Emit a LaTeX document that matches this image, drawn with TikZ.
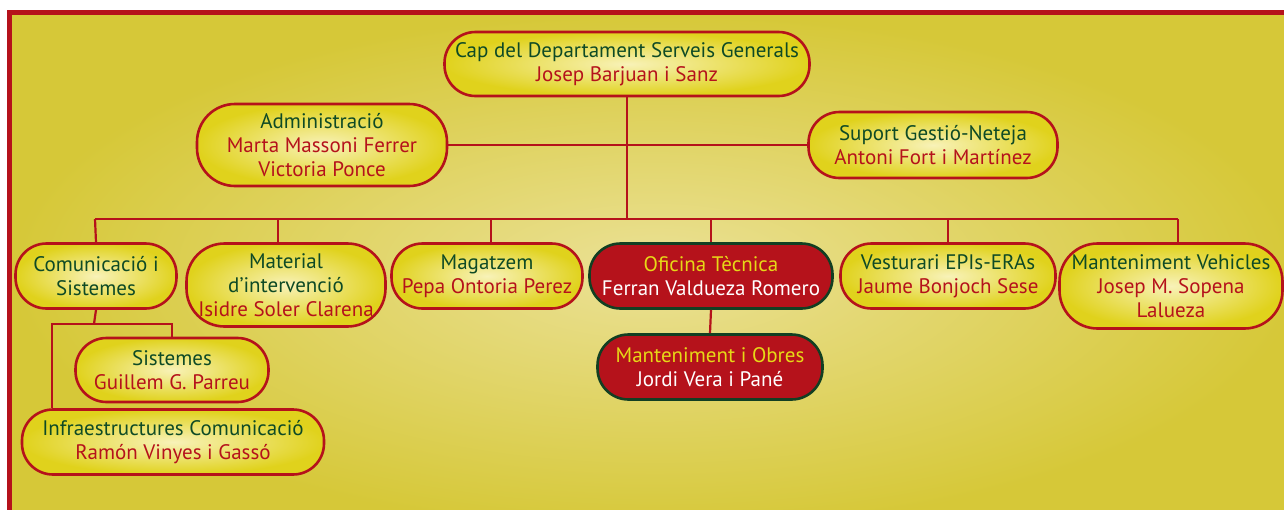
\documentclass[tikz,border=0pt]{standalone}
\usepackage{fontspec}
\setmainfont{PT Sans}
\definecolor{bord}{HTML}{B5121B}
\definecolor{grn}{HTML}{0E4A25}
\definecolor{ylw}{HTML}{E6D817}
\definecolor{boxout}{HTML}{E0D21C}
\definecolor{boxin}{HTML}{F8F2B8}
\definecolor{bgout}{HTML}{D6C838}
\definecolor{bgin}{HTML}{EBE196}
\definecolor{dgrn}{HTML}{123F22}
\newcommand{\gt}[1]{\textcolor{grn}{#1}}
\newcommand{\rt}[1]{\textcolor{bord}{#1}}
\newcommand{\yt}[1]{\textcolor{ylw}{#1}}
\newcommand{\wt}[1]{\textcolor{white}{#1}}
\tikzset{
  ybox/.style={draw=bord, line width=2.6pt, inner color=boxin, outer color=boxout,
    align=center, inner sep=0pt, font=\fontsize{21}{24}\selectfont},
  rbox/.style={draw=dgrn, line width=2.6pt, fill=bord,
    align=center, inner sep=0pt, font=\fontsize{21}{24}\selectfont},
  two/.style={minimum height=64pt, rounded corners=31pt},
  three/.style={minimum height=82pt, rounded corners=38pt},
  link/.style={draw=bord, line width=2.2pt}
}
\begin{document}
\begin{tikzpicture}[x=1pt,y=-1pt]
\useasboundingbox (0,0) rectangle (1284,509);
\fill[white] (0,0) rectangle (1284,509);
\shade[inner color=bgin, outer color=bgout] (9,12) rectangle (1300,530);
\draw[bord, line width=5pt] (9,540) -- (9,12) -- (1300,12);

\node[ybox,two,minimum width=365pt] (cap) at (627,64)
  {\gt{Cap del Departament Serveis Generals}\\\rt{Josep Barjuan i Sanz}};
\node[ybox,three,minimum width=250pt] (adm) at (322,145)
  {\gt{Administració}\\\rt{Marta Massoni Ferrer}\\\rt{Victoria Ponce}};
\node[ybox,two,minimum width=249pt,minimum height=66pt] (sup) at (933,145)
  {\gt{Suport Gestió-Neteja}\\\rt{Antoni Fort i Martínez}};

\node[ybox,two,minimum width=161pt,minimum height=65pt] (com) at (96,276)
  {\gt{Comunicació i}\\\gt{Sistemes}};
\node[ybox,three,minimum width=199pt,minimum height=83pt] (mat) at (286,285)
  {\gt{Material}\\\gt{d’intervenció}\\\rt{Isidre Soler Clarena}};
\node[ybox,two,minimum width=191pt,minimum height=65pt] (mag) at (487,276)
  {\gt{Magatzem}\\\rt{Pepa Ontoria Perez}};
\node[rbox,two,minimum width=243pt,minimum height=65pt] (ofi) at (711,276)
  {\yt{Oficina Tècnica}\\\wt{Ferran Valdueza Romero}};
\node[ybox,two,minimum width=215pt,minimum height=65pt] (ves) at (948,276)
  {\gt{Vesturari EPIs-ERAs}\\\rt{Jaume Bonjoch Sese}};
\node[ybox,three,minimum width=223pt,minimum height=85pt] (veh) at (1171,286)
  {\gt{Manteniment Vehicles}\\\rt{Josep M. Sopena}\\\rt{Lalueza}};

\node[rbox,two,minimum width=225pt,minimum height=65pt] (obr) at (710,367)
  {\yt{Manteniment i Obres}\\\wt{Jordi Vera i Pané}};
\node[ybox,two,minimum width=193pt,minimum height=64pt] (sis) at (172,370)
  {\gt{Sistemes}\\\rt{Guillem G. Parreu}};
\node[ybox,two,minimum width=302pt,minimum height=65pt] (inf) at (173,442)
  {\gt{Infraestructures Comunicació}\\\rt{Ramón Vinyes i Gassó}};

\coordinate (busL) at (95,219);
\coordinate (busR) at (1178,219);
\coordinate (cj) at (94,324);

\draw[link] (adm.east) -- (sup.west);
\draw[link] (cap.south) -- (cap.south |- busL);
\draw[link] (busL) -- (busR);
\draw[link] (busL) -- (com.north);
\draw[link] (busL -| 278,0) -- (278,0 |- mat.north);
\draw[link] (busL -| 491,0) -- (491,0 |- mag.north);
\draw[link] (busL -| ofi.north) -- (ofi.north);
\draw[link] (busL -| ves.north) -- (ves.north);
\draw[link] (busR) -- (busR |- veh.north);
\draw[link] (ofi.south) -- (obr.north);
\draw[link] (com.south) -- (cj);
\draw[link] (sis.north) |- (cj) -| ([xshift=-121pt]inf.north);
\end{tikzpicture}
\end{document}
